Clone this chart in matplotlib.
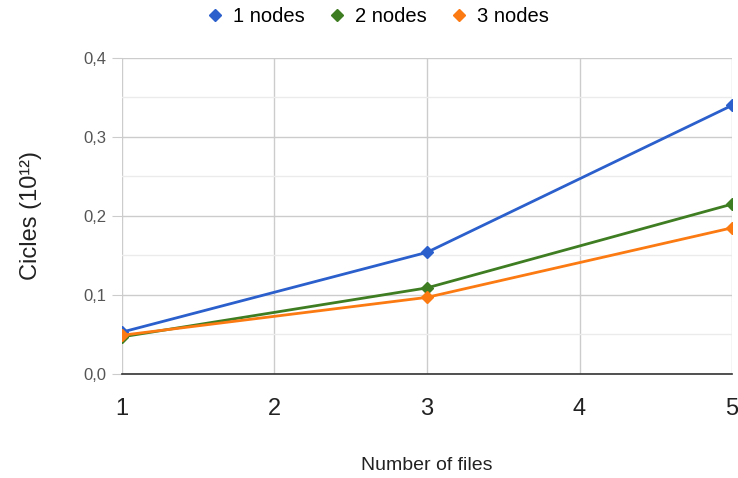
import numpy as np
import matplotlib.pyplot as plt
from matplotlib.ticker import MultipleLocator, FuncFormatter

# number of files vs. cycles (x10^12) for each cluster size
files = [1, 3, 5]
nodes_1 = [0.053, 0.154, 0.340]
nodes_2 = [0.047, 0.109, 0.215]
nodes_3 = [0.049, 0.097, 0.185]
series_labels = ['1 nodes', '2 nodes', '3 nodes']
colors = ['#2a5fcc', '#3f7d22', '#fb7a12']

plt.rcParams['font.family'] = ['Liberation Sans', 'DejaVu Sans']

fig = plt.figure(figsize=(7.38, 4.78), dpi=100)
ax = fig.add_axes([0.1653, 0.2176, 0.8266, 0.6611])

for vals, lab, c in zip([nodes_1, nodes_2, nodes_3], series_labels, colors):
    ax.plot(files, vals, color=c, lw=2, marker='D', ms=6, label=lab, zorder=3)

ax.set_xlim(1, 5)
ax.set_ylim(0, 0.4)
ax.xaxis.set_major_locator(MultipleLocator(1))
ax.yaxis.set_major_locator(MultipleLocator(0.1))
ax.yaxis.set_minor_locator(MultipleLocator(0.05))
ax.yaxis.set_major_formatter(FuncFormatter(lambda v, p: f'{v:.1f}'.replace('.', ',')))

ax.grid(which='major', color='#cccccc', lw=1)
ax.grid(which='minor', axis='y', color='#ebebeb', lw=1)
ax.set_axisbelow(True)

for s in ['top', 'right', 'left']:
    ax.spines[s].set_visible(False)
ax.spines['bottom'].set_color('#333333')
ax.spines['bottom'].set_linewidth(1.2)

ax.tick_params(axis='y', which='major', length=7, color='#cccccc',
               labelsize=12, labelcolor='#555555', pad=4)
ax.tick_params(axis='y', which='minor', length=0)
ax.tick_params(axis='x', length=0, labelsize=17, labelcolor='#222222', pad=17)

ax.set_xlabel('Number of files', fontsize=14, color='#222222', labelpad=27)
ax.set_ylabel('Cicles (10¹²)', fontsize=17, color='#222222', labelpad=30)

ax.legend(loc='lower center', bbox_to_anchor=(0.42, 1.045), ncol=3, frameon=False,
          fontsize=14.5, handlelength=0.8, handletextpad=0.5, columnspacing=1.2,
          markerscale=1.1)
leg = ax.get_legend()
for h in leg.legend_handles:
    h.set_linestyle('none')

fig.savefig('out.png', dpi=100)
